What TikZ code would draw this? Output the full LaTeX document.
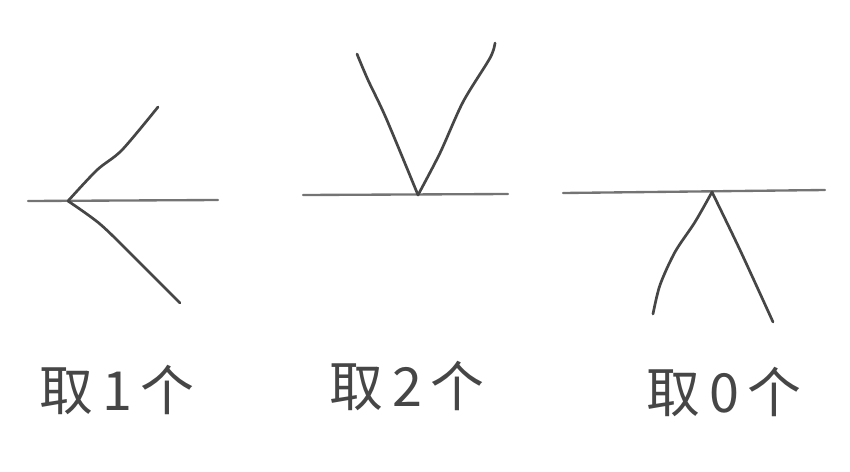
\documentclass[tikz,border=0pt]{standalone}
\usepackage{fontspec}
\newfontfamily\cjk{Noto Sans CJK SC}
\usetikzlibrary{positioning}
\definecolor{pencil}{RGB}{70,70,70}

\begin{document}
\begin{tikzpicture}[x=0.03cm, y=-0.03cm,
    stroke/.style={draw=pencil, line width=2.3pt, line cap=round, line join=round},
    base/.style={draw=pencil!75, line width=2pt, line cap=round},
    lbl/.style={font=\cjk\fontsize{46}{50}\selectfont, text=pencil}]
    % Define frame
    \useasboundingbox (0,0) rectangle (850,471);

    % Take 1
    \coordinate (aL) at (28,201);
    \coordinate (aR) at (218,200);
    \coordinate (aO) at (68,201);
    \coordinate (aU) at (158,107);
    \coordinate (aD) at (180,303);
    \draw[base] (aL) -- (aR);
    \draw[stroke] plot[smooth] coordinates {(aO) (97,170) (122,150) (aU)};
    \draw[stroke] plot[smooth] coordinates {(aO) (100,224) (134,257) (aD)};

    % Take 2
    \coordinate (bL) at (303,195);
    \coordinate (bR) at (508,194);
    \coordinate (bO) at (418,195);
    \coordinate (bU) at (357,54);
    \coordinate (bV) at (495,43);
    \draw[base] (bL) -- (bR);
    \draw[stroke] plot[smooth] coordinates {(bO) (386,118) (368,80) (bU)};
    \draw[stroke] plot[smooth] coordinates {(bO) (440,153) (463,102) (490,58) (bV)};

    % Take 0
    \coordinate (cL) at (563,193);
    \coordinate (cR) at (825,190);
    \coordinate (cO) at (712,192);
    \coordinate (cU) at (653,314);
    \coordinate (cV) at (773,322);
    \draw[base] (cL) -- (cR);
    \draw[stroke] plot[smooth] coordinates {(cO) (695,222) (675,252) (660,285) (cU)};
    \draw[stroke] plot[smooth] coordinates {(cO) (740,250) (cV)};

    % Labels
    \node[lbl] (t1) at (117,390) {取\,1\,个};
    \node[lbl] (t2) at (407,386) {取\,2\,个};
    \node[lbl] (t0) at (724,392) {取\,0\,个};
\end{tikzpicture}
\end{document}
